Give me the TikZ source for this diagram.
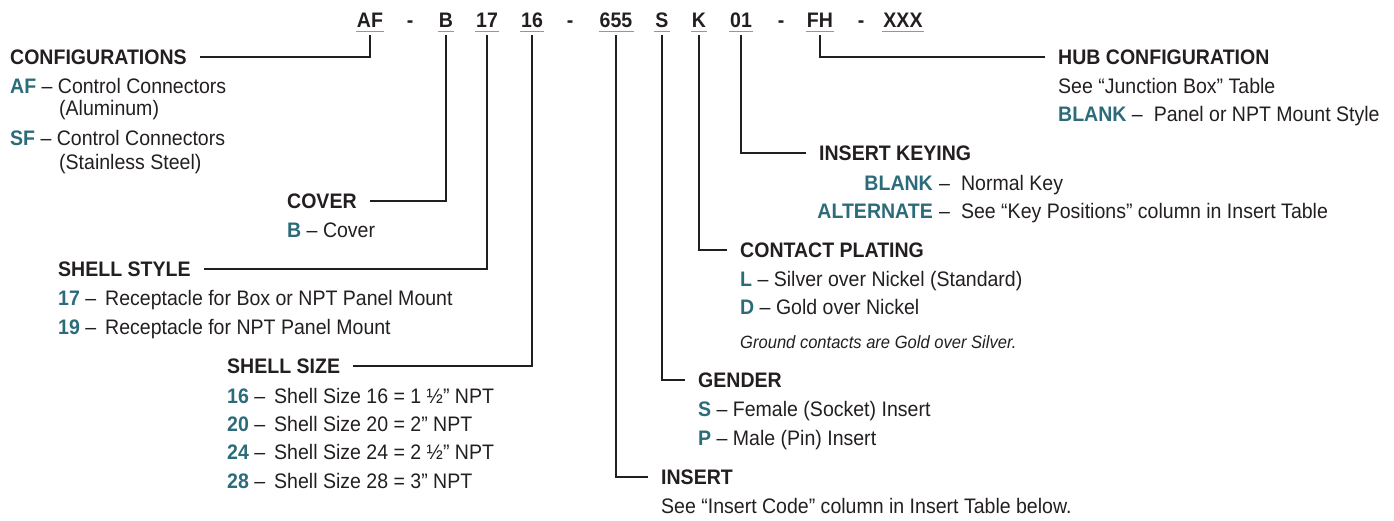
\documentclass[tikz,border=0pt]{standalone}
\usepackage{fontspec}
\setmainfont[FakeStretch=0.93]{Liberation Sans}
\usetikzlibrary{positioning}
\definecolor{codeteal}{RGB}{44,107,122}
\definecolor{ink}{RGB}{35,31,32}
\definecolor{rulegray}{RGB}{150,150,150}
\newcommand{\bodyfont}{\fontsize{21}{25}\selectfont}
\newcommand{\kc}[1]{\textcolor{codeteal}{\bfseries #1}}

\tikzset{
  lbl/.style={inner sep=0pt, text height=15pt, text depth=0pt, anchor=west, text=ink, font=\bodyfont},
  head/.style={lbl, font=\bodyfont\bfseries},
  note/.style={lbl, font=\fontsize{17.8}{21}\selectfont\itshape, text height=12pt},
  code/.style={inner sep=0pt, text height=15pt, text depth=0pt, font=\bodyfont\bfseries, text=ink},
  uline/.style={rulegray, line width=1.4pt},
  lead/.style={ink, line width=2.4pt}
}

\begin{document}
\begin{tikzpicture}[x=1pt, y=-1pt]
\useasboundingbox (0,0) rectangle (1394,521);

%---------------------------------------
% Part number
%---------------------------------------
\foreach \id/\txt/\cx in {AF/AF/370, B/B/446, 17/17/487, 16/16/532, 655/655/616,
    S/S/662, K/K/699, 01/01/741, FH/FH/820, XXX/XXX/903} {
  \node[code] (c\id) at (\cx,20.5) {\txt};
  \draw[uline] ([xshift=-1pt,yshift=-3.5pt]c\id.south west)
            -- ([xshift=1pt,yshift=-3.5pt]c\id.south east);
}
\foreach \dx [count=\i] in {410,570,781,861}
  \node[code] (dash\i) at (\dx,20.5) {-};

%---------------------------------------
% Headings
%---------------------------------------
\node[head] (hConfig) at (10,57)   {CONFIGURATIONS};
\node[head] (hCover)  at (287,201) {COVER};
\node[head] (hStyle)  at (58,269)  {SHELL STYLE};
\node[head] (hSize)   at (227,366) {SHELL SIZE};
\node[head] (hHub)    at (1058,57) {HUB CONFIGURATION};
\node[head] (hKey)    at (819,153) {INSERT KEYING};
\node[head] (hPlate)  at (740,250) {CONTACT PLATING};
\node[head] (hGender) at (698,380) {GENDER};
\node[head] (hInsert) at (661,477) {INSERT};

%---------------------------------------
% Leaders
%---------------------------------------
\draw[lead] ([yshift=-7pt]cAF.south)  |- ([xshift=13pt]hConfig.east);
\draw[lead] ([yshift=-7pt]cB.south)   |- ([xshift=13pt]hCover.east);
\draw[lead] ([yshift=-7pt]c17.south)  |- ([xshift=13pt]hStyle.east);
\draw[lead] ([yshift=-7pt]c16.south)  |- ([xshift=13pt]hSize.east);
\draw[lead] ([yshift=-7pt]c655.south) |- ([xshift=-13pt]hInsert.west);
\draw[lead] ([yshift=-7pt]cS.south)   |- ([xshift=-13pt]hGender.west);
\draw[lead] ([yshift=-7pt]cK.south)   |- ([xshift=-13pt]hPlate.west);
\draw[lead] ([yshift=-7pt]c01.south)  |- ([xshift=-13pt]hKey.west);
\draw[lead] ([yshift=-7pt]cFH.south)  |- ([xshift=-13pt]hHub.west);

%---------------------------------------
% Left column entries
%---------------------------------------
\node[lbl] (cfgAF)  at (10,86)  {\kc{AF} -- Control Connectors};
\node[lbl] (cfgAFb) at (59,108) {(Aluminum)};
\node[lbl] (cfgSF)  at (10,138) {\kc{SF} -- Control Connectors};
\node[lbl] (cfgSFb) at (59,162) {(Stainless Steel)};

\node[lbl] (covB) at (287,230) {\kc{B} -- Cover};

\node[lbl] (sty17) at (58,298) {\kc{17} --\hspace{9pt}Receptacle for Box or NPT Panel Mount};
\node[lbl] (sty19) at (58,327) {\kc{19} --\hspace{9pt}Receptacle for NPT Panel Mount};

\node[lbl] (siz16) at (227,396) {\kc{16} --\hspace{9pt}Shell Size 16 = 1 ½” NPT};
\node[lbl] (siz20) at (227,424) {\kc{20} --\hspace{9pt}Shell Size 20 = 2” NPT};
\node[lbl] (siz24) at (227,452) {\kc{24} --\hspace{9pt}Shell Size 24 = 2 ½” NPT};
\node[lbl] (siz28) at (227,481) {\kc{28} --\hspace{9pt}Shell Size 28 = 3” NPT};

%---------------------------------------
% Right column entries
%---------------------------------------
\node[lbl] (hubSee)   at (1058,86)  {See “Junction Box” Table};
\node[lbl] (hubBlank) at (1058,114) {\kc{BLANK} --\hspace{11pt}Panel or NPT Mount Style};

\node[lbl, anchor=east] (keyBlank) at (933,183) {\kc{BLANK}};
\node[lbl] (keyBlankT) at (939,183) {--\hspace{11pt}Normal Key};
\node[lbl, anchor=east] (keyAlt) at (933,211) {\kc{ALTERNATE}};
\node[lbl] (keyAltT) at (939,211) {--\hspace{11pt}See “Key Positions” column in Insert Table};

\node[lbl] (platL) at (740,279) {\kc{L} -- Silver over Nickel (Standard)};
\node[lbl] (platD) at (740,307) {\kc{D} -- Gold over Nickel};
\node[note] (platNote) at (740,342) {Ground contacts are Gold over Silver.};

\node[lbl] (genS) at (698,409) {\kc{S} -- Female (Socket) Insert};
\node[lbl] (genP) at (698,438) {\kc{P} -- Male (Pin) Insert};

\node[lbl] (insSee) at (661,506) {See “Insert Code” column in Insert Table below.};

\end{tikzpicture}
\end{document}
